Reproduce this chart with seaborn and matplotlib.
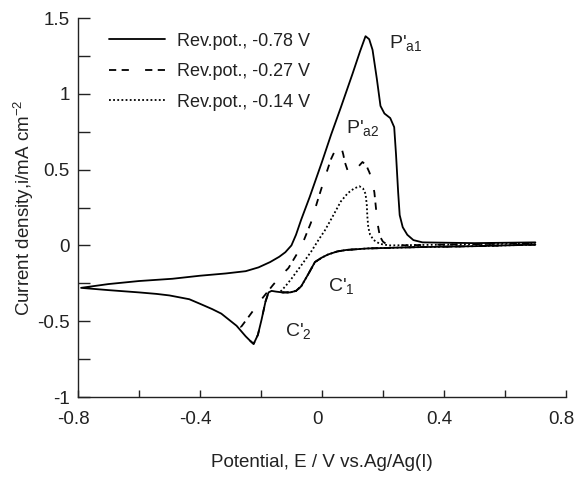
import numpy as np
import pandas as pd
import matplotlib
matplotlib.use("Agg")
import matplotlib.pyplot as plt
import matplotlib.transforms as mtransforms
import seaborn as sns
from matplotlib.ticker import MultipleLocator, FuncFormatter

# ---------------- data ----------------
# shared cathodic scan (from +0.70 V towards negative potentials)
lower_E = [0.70, 0.50, 0.30, 0.15, 0.08, 0.05, 0.02, 0.00, -0.023, -0.045, -0.068,
           -0.085, -0.104, -0.13, -0.15, -0.165, -0.175, -0.185, -0.198, -0.21,
           -0.224, -0.235, -0.25, -0.28, -0.305, -0.33, -0.36, -0.40, -0.435,
           -0.50, -0.542, -0.60, -0.70, -0.79]
lower_i = [0.005, -0.005, -0.012, -0.02, -0.03, -0.04, -0.06, -0.08, -0.11, -0.19, -0.27,
           -0.30, -0.31, -0.31, -0.305, -0.30, -0.31, -0.37, -0.49, -0.59,
           -0.65, -0.63, -0.60, -0.53, -0.49, -0.45, -0.42, -0.385, -0.355,
           -0.33, -0.32, -0.31, -0.295, -0.28]

# anodic scans after reversal
up078_E = [-0.79, -0.70, -0.60, -0.49, -0.40, -0.315, -0.25, -0.208, -0.17, -0.14,
           -0.12, -0.10, -0.085, -0.068, -0.04, 0.00, 0.03, 0.062, 0.10, 0.125, 0.143,
           0.155, 0.166, 0.18, 0.192, 0.205, 0.224, 0.237, 0.243, 0.25, 0.255,
           0.265, 0.28, 0.30, 0.33, 0.50, 0.70]
up078_i = [-0.28, -0.255, -0.235, -0.22, -0.20, -0.185, -0.17, -0.145, -0.11, -0.075,
           -0.045, 0.0, 0.07, 0.17, 0.32, 0.55, 0.73, 0.91, 1.13, 1.28, 1.38,
           1.36, 1.29, 1.10, 0.92, 0.87, 0.84, 0.78, 0.60, 0.35, 0.20,
           0.12, 0.07, 0.035, 0.02, 0.015, 0.02]

up027_E = [-0.266, -0.24, -0.198, -0.16, -0.13, -0.11, -0.08, -0.06, -0.036, -0.015,
           0.01, 0.03, 0.045, 0.062, 0.07, 0.075, 0.085, 0.095, 0.115, 0.133,
           0.145, 0.156, 0.165, 0.172, 0.177, 0.182, 0.19, 0.20, 0.214, 0.25,
           0.40, 0.70]
up027_i = [-0.54, -0.47, -0.355, -0.26, -0.19, -0.15, -0.05, 0.03, 0.15, 0.29,
           0.45, 0.57, 0.635, 0.66, 0.60, 0.55, 0.49, 0.475, 0.51, 0.55,
           0.53, 0.48, 0.42, 0.35, 0.25, 0.15, 0.06, 0.025, 0.005, 0.0,
           0.005, 0.015]

up014_E = [-0.136, -0.12, -0.10, -0.08, -0.06, -0.035, -0.01, 0.01, 0.035, 0.062,
           0.085, 0.105, 0.123, 0.135, 0.143, 0.147, 0.149, 0.152, 0.158, 0.17,
           0.19, 0.22, 0.40, 0.70]
up014_i = [-0.305, -0.27, -0.22, -0.165, -0.11, -0.04, 0.04, 0.10, 0.19, 0.29,
           0.345, 0.375, 0.39, 0.375, 0.34, 0.27, 0.19, 0.12, 0.07, 0.035,
           0.01, 0.0, 0.005, 0.015]

rev_pots = [-0.78, -0.27, -0.14]
labels = ["Rev.pot., -0.78 V", "Rev.pot., -0.27 V", "Rev.pot., -0.14 V"]
uppers = [(up078_E, up078_i), (up027_E, up027_i), (up014_E, up014_i)]

# ---------------- style ----------------
sns.set_theme(style="ticks")
plt.rcParams["font.family"] = ["Liberation Sans", "DejaVu Sans"]
plt.rcParams["mathtext.fontset"] = "custom"
plt.rcParams["mathtext.rm"] = "Liberation Sans"
plt.rcParams["mathtext.it"] = "Liberation Sans"
plt.rcParams["mathtext.sf"] = "Liberation Sans"

TXT = "#222222"
fig = plt.figure(figsize=(5.76, 4.8), dpi=100)
ax = fig.add_axes([0.1354, 0.1729, 0.847, 0.7896])

styles = [dict(linestyle="-"),
          dict(linestyle=(0, (4, 3, 4, 9))),
          dict(linestyle=(0, (1, 1.3)))]

for rev, lab, (uE, ui), st in zip(rev_pots, labels, uppers, styles):
    lE = [e for e in lower_E if e > uE[0]]
    li = [v for e, v in zip(lower_E, lower_i) if e > uE[0]]
    df = pd.DataFrame({"E": lE + list(uE), "i": li + list(ui)})
    sns.lineplot(data=df, x="E", y="i", sort=False, estimator=None, ax=ax,
                 color="black", linewidth=1.3, label=lab, **st)

ax.set_xlim(-0.8, 0.8)
ax.set_ylim(-1.0, 1.5)
ax.xaxis.set_major_locator(MultipleLocator(0.2))
ax.yaxis.set_major_locator(MultipleLocator(0.25))

def xfmt(v, p):
    k = round(v / 0.2)
    if k % 2:
        return ""
    return "0" if k == 0 else f"{v:.1f}"

def yfmt(v, p):
    k = round(v / 0.25)
    if k % 2:
        return ""
    if k == 0:
        return "0"
    return f"{v:g}"

ax.xaxis.set_major_formatter(FuncFormatter(xfmt))
ax.yaxis.set_major_formatter(FuncFormatter(yfmt))
ax.tick_params(axis="x", direction="in", length=5, width=1, pad=10, labelsize=13.5, colors=TXT)
ax.tick_params(axis="y", direction="in", length=8.5, width=1, pad=6, labelsize=13.5, colors=TXT)
shift = mtransforms.ScaledTranslation(-3 / 72, 0, fig.dpi_scale_trans)
for lbl in ax.get_xticklabels():
    lbl.set_transform(lbl.get_transform() + shift)
for s in ["top", "right"]:
    ax.spines[s].set_visible(False)
for s in ["left", "bottom"]:
    ax.spines[s].set_color(TXT)
    ax.spines[s].set_linewidth(1.0)

ax.set_xlabel("Potential, E / V vs.Ag/Ag(I)", fontsize=13.5, labelpad=19, color=TXT)
ax.set_ylabel(r"Current density,i/mA cm$^{-2}$", fontsize=13.5, labelpad=1, color=TXT)

leg = ax.legend(loc="upper left", bbox_to_anchor=(0.042, 0.99), frameon=False, fontsize=13,
                handlelength=3.1, handletextpad=0.65, labelspacing=0.75, borderaxespad=0.2)
for t in leg.get_texts():
    t.set_color(TXT)

tk = dict(fontsize=14, color=TXT)
ax.text(0.22, 1.30, r"P$'_{\mathrm{a1}}$", **tk)
ax.text(0.08, 0.74, r"P$'_{\mathrm{a2}}$", **tk)
ax.text(0.02, -0.30, r"C$'_{1}$", **tk)
ax.text(-0.12, -0.60, r"C$'_{2}$", **tk)

fig.savefig("out.png", dpi=100)
